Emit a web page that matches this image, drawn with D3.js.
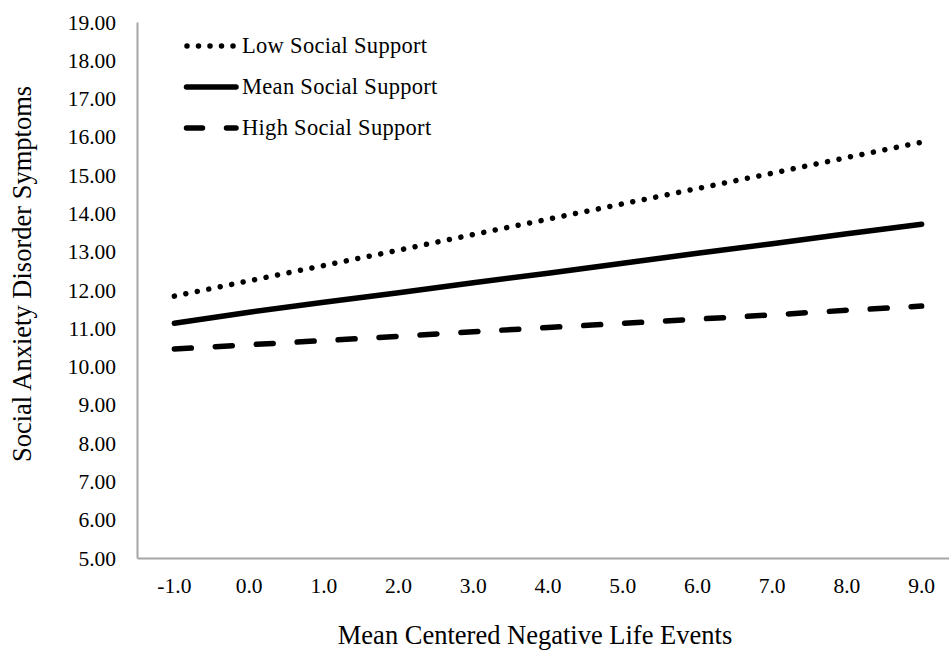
<!DOCTYPE html>
<html><head><meta charset="utf-8">
<script src="https://cdn.jsdelivr.net/npm/d3@7"></script>
<style>body{margin:0;background:#fff}svg{display:block}text{font-family:"Liberation Serif","Times New Roman",serif;fill:#000}</style>
</head><body><svg id="c" width="949" height="651"></svg>
<script>
const categories = ["-1.0","0.0","1.0","2.0","3.0","4.0","5.0","6.0","7.0","8.0","9.0"];
const lowSupport  = [11.84,12.24,12.64,13.04,13.45,13.85,14.25,14.65,15.05,15.46,15.86];
const meanSupport = [11.13,11.42,11.68,11.93,12.19,12.44,12.70,12.96,13.21,13.47,13.72];
const highSupport = [10.46,10.57,10.68,10.79,10.91,11.02,11.13,11.24,11.35,11.47,11.58];
const yTicks = [5,6,7,8,9,10,11,12,13,14,15,16,17,18,19];
const seriesNames = ["Low Social Support","Mean Social Support","High Social Support"];

(function(){
const svg = d3.select("#c");
const mLeft = 137, mRight = 959, mTop = 22, mBottom = 558;
const x = d3.scaleBand().domain(categories).range([mLeft, mRight]);
const y = d3.scaleLinear().domain([5,19]).range([mBottom, mTop]);

// axes
const yAxis = svg.append("g").attr("transform",`translate(${mLeft},0)`)
  .call(d3.axisLeft(y).tickValues(yTicks).tickFormat(d3.format(".2f")).tickSize(0).tickPadding(21));
yAxis.attr("font-family",null).attr("font-size",null);
yAxis.select(".domain").attr("stroke","#a6a6a6").attr("stroke-width",2);
yAxis.selectAll("text").style("font-size","21.5px").attr("dy","0.33em");

const xAxis = svg.append("g").attr("transform",`translate(0,${mBottom})`)
  .call(d3.axisBottom(x).tickSize(0).tickPadding(20));
xAxis.attr("font-family",null).attr("font-size",null);
xAxis.select(".domain").attr("stroke","#a6a6a6").attr("stroke-width",2);
xAxis.selectAll("text").style("font-size","21.5px");

const styles = [
  {dash:"0.01,11.69", w:5.5},
  {dash:null, w:5.5},
  {dash:"17,24", w:5.5}
];
const data = [lowSupport, meanSupport, highSupport];
const line = d3.line().x((d,i)=>x(categories[i])+x.bandwidth()/2).y(d=>y(d));
data.forEach((s,k)=>{
  const p = svg.append("path").datum(s).attr("d",line).attr("fill","none")
    .attr("stroke","#000").attr("stroke-width",styles[k].w).attr("stroke-linecap","round");
  if(styles[k].dash) p.attr("stroke-dasharray",styles[k].dash);
});

// legend
const legY = [46, 87, 128];
const legDash = ["0.01,11.49", null, "16,24"];
const legX1 = [187, 186.5, 186.5], legX2 = [233, 236, 236];
seriesNames.forEach((n,k)=>{
  const l = svg.append("line").attr("x1",legX1[k]).attr("x2",legX2[k]).attr("y1",legY[k]).attr("y2",legY[k])
    .attr("stroke","#000").attr("stroke-width",styles[k].w).attr("stroke-linecap","round");
  if(legDash[k]) l.attr("stroke-dasharray",legDash[k]);
  svg.append("text").attr("x",242).attr("y",legY[k]).attr("dy","0.33em")
    .style("font-size","22.5px").style("letter-spacing","0.3px").text(n);
});

// titles
svg.append("text").attr("x",535).attr("y",644).attr("text-anchor","middle")
  .style("font-size","26.5px").text("Mean Centered Negative Life Events");
svg.append("text").attr("transform","translate(31,274) rotate(-90)").attr("text-anchor","middle")
  .style("font-size","26.5px").text("Social Anxiety Disorder Symptoms");
})();
</script></body></html>
